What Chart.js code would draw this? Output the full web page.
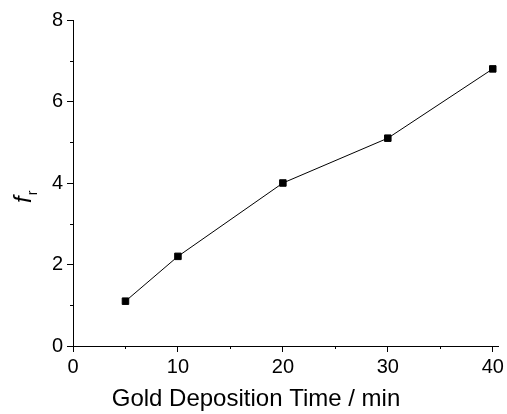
<!DOCTYPE html>
<html>
<head>
<meta charset="utf-8">
<script src="https://cdn.jsdelivr.net/npm/chart.js@4/dist/chart.umd.min.js"></script>
<style>
  html, body { margin: 0; padding: 0; background: #fff; }
  #wrap { width: 507px; height: 414px; }
</style>
</head>
<body>
<div id="wrap"><canvas id="chart"></canvas></div>
<script>
// gold deposition time (min) vs f_r
const depTime = [5, 10, 20, 30, 40];
const fr = [1.1, 2.2, 4.0, 5.1, 6.8];
const xTicks = [0, 10, 20, 30, 40];
const yTicks = [0, 2, 4, 6, 8];

const FONT = "'Liberation Sans', Arial, sans-serif";

// minor ticks (shorter, outward) + axis titles
const extras = {
  id: "extras",
  afterDraw(chart) {
    const c = chart.ctx;
    const xs = chart.scales.x, ys = chart.scales.y;
    c.save();
    c.strokeStyle = "#000";
    c.lineWidth = 1;
    c.beginPath();
    for (let v = 5; v <= 40; v += 10) {
      const px = Math.round(xs.getPixelForValue(v)) + 0.5;
      c.moveTo(px, ys.bottom);
      c.lineTo(px, ys.bottom + 3);
    }
    for (let v = 1; v <= 7; v += 2) {
      const py = Math.round(ys.getPixelForValue(v)) + 0.5;
      c.moveTo(ys.right - 3, py);
      c.lineTo(ys.right, py);
    }
    c.stroke();

    c.fillStyle = "#000";
    c.textBaseline = "alphabetic";

    // x title
    c.font = "24px " + FONT;
    c.textAlign = "center";
    c.fillText("Gold Deposition Time / min", 256, 406);

    // y title: italic f with subscript r, rotated
    c.textAlign = "left";
    c.translate(31, 203);
    c.rotate(-Math.PI / 2);
    c.font = "italic 24px " + FONT;
    c.fillText("f", 0, 0);
    const w = c.measureText("f").width;
    c.font = "14px " + FONT;
    c.fillText("r", w + 1, 6);
    c.restore();
  }
};

new Chart("chart", {
  type: "scatter",
  data: {
    datasets: [{
      data: depTime.map((t, i) => ({ x: t, y: fr[i] })),
      showLine: true,
      borderColor: "#000",
      borderWidth: 1,
      backgroundColor: "#000",
      pointStyle: "rect",
      pointRadius: 4.6,
      pointHoverRadius: 4.6,
      tension: 0
    }]
  },
  options: {
    responsive: true,
    maintainAspectRatio: false,
    animation: false,
    layout: { padding: { left: 0, right: 9, top: 20, bottom: 0 } },
    plugins: { legend: { display: false }, tooltip: { enabled: false } },
    scales: {
      x: {
        type: "linear",
        min: 0,
        max: 40.5,
        afterFit(s) { s.height = 68; },
        border: { display: true, color: "#000", width: 1 },
        grid: {
          drawOnChartArea: false,
          drawTicks: true,
          tickLength: 6,
          tickColor: (ctx) => (ctx.tick && xTicks.includes(ctx.tick.value)) ? "#000" : "rgba(0,0,0,0)"
        },
        ticks: {
          stepSize: 10,
          includeBounds: false,
          maxRotation: 0,
          color: "#000",
          padding: 3,
          font: { family: FONT, size: 20 },
          callback: (v) => xTicks.includes(v) ? String(v) : ""
        },
        title: { display: false }
      },
      y: {
        type: "linear",
        min: 0,
        max: 8,
        afterFit(s) { s.width = 73; },
        border: { display: true, color: "#000", width: 1 },
        grid: {
          drawOnChartArea: false,
          drawTicks: true,
          tickLength: 6,
          tickColor: (ctx) => (ctx.tick && yTicks.includes(ctx.tick.value)) ? "#000" : "rgba(0,0,0,0)"
        },
        ticks: {
          stepSize: 2,
          color: "#000",
          padding: 4,
          font: { family: FONT, size: 20 },
          callback: (v) => yTicks.includes(v) ? String(v) : ""
        }
      }
    }
  },
  plugins: [extras]
});
</script>
</body>
</html>
